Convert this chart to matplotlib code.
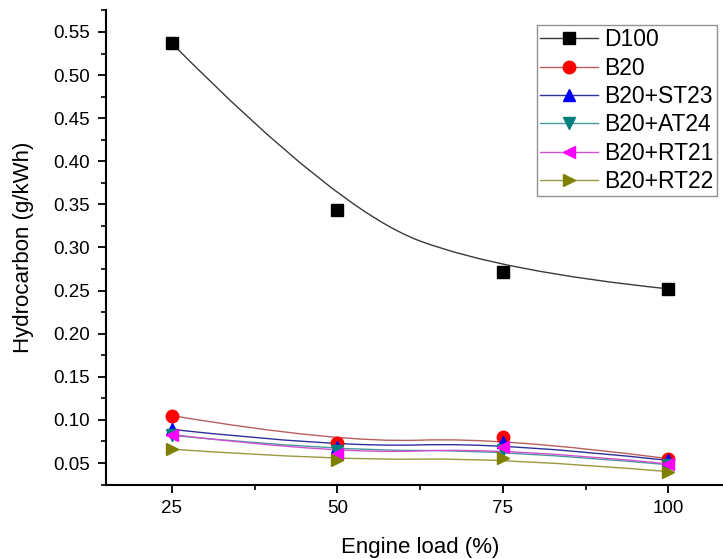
import numpy as np
import matplotlib
matplotlib.use('Agg')
import matplotlib.pyplot as plt
from matplotlib.path import Path
from matplotlib.patches import PathPatch
from matplotlib.lines import Line2D
from matplotlib.ticker import MultipleLocator, FormatStrFormatter

plt.rcParams['font.family'] = ['Liberation Sans', 'DejaVu Sans']

# engine load (%)
load = [25, 50, 75, 100]

# hydrocarbon (g/kWh)
d100 = [0.537, 0.343, 0.272, 0.252]
b20 = [0.105, 0.073, 0.080, 0.055]
b20_st23 = [0.089, 0.068, 0.074, 0.053]
b20_at24 = [0.082, 0.064, 0.065, 0.048]
b20_rt21 = [0.083, 0.060, 0.068, 0.049]
b20_rt22 = [0.066, 0.053, 0.056, 0.040]

labels = ['D100', 'B20', 'B20+ST23', 'B20+AT24', 'B20+RT21', 'B20+RT22']
series = [d100, b20, b20_st23, b20_at24, b20_rt21, b20_rt22]
markers = ['s', 'o', '^', 'v', '<', '>']
face_colors = ['#000000', '#ff0000', '#0000ff', '#007f7f', '#ff00ff', '#7f7f00']
line_colors = ['#3a3a3a', '#b86060', '#30309a', '#4a9a9a', '#d050d0', '#9a9a40']
sizes = [8, 9, 9, 9, 9, 9]


def bspline_path(x, y):
    # quadratic B-spline (Origin style): data points are the control points,
    # segments joined at midpoints of the inner control points
    pts = list(zip(x, y))
    verts = [pts[0]]
    codes = [Path.MOVETO]
    for i in range(1, len(pts) - 2):
        mid = ((pts[i][0] + pts[i + 1][0]) / 2, (pts[i][1] + pts[i + 1][1]) / 2)
        verts += [pts[i], mid]
        codes += [Path.CURVE3, Path.CURVE3]
    verts += [pts[-2], pts[-1]]
    codes += [Path.CURVE3, Path.CURVE3]
    return Path(verts, codes)


fig = plt.figure(figsize=(7.23, 5.59), dpi=100)
ax = fig.add_axes([0.146, 0.1324, 0.870, 0.8497])

handles = []
for y, lab, m, fc, lc, ms in zip(series, labels, markers, face_colors, line_colors, sizes):
    patch = PathPatch(bspline_path(load, y), facecolor='none', edgecolor=lc,
                      lw=1.0, transform=ax.transData, zorder=2)
    ax.add_patch(patch)
    ax.plot(load, y, ls='none', marker=m, ms=ms, mfc=fc, mec=fc, zorder=3)
    handles.append(Line2D([], [], color=lc, lw=1.0, marker=m, ms=ms, mfc=fc, mec=fc))

ax.set_xlim(15, 110)
ax.set_ylim(0.0245, 0.5755)
ax.set_xticks(load)
ax.xaxis.set_minor_locator(MultipleLocator(12.5))
ax.yaxis.set_minor_locator(MultipleLocator(0.025))
ax.yaxis.set_major_formatter(FormatStrFormatter('%.2f'))
ax.set_yticks(np.arange(0.05, 0.551, 0.05))

for s in ['top', 'right']:
    ax.spines[s].set_visible(False)
for s in ['left', 'bottom']:
    ax.spines[s].set_linewidth(1.5)

ax.tick_params(which='major', direction='out', length=6, width=1.3, labelsize=13.5, pad=5)
ax.tick_params(which='minor', direction='out', length=3.5, width=1.2)

ax.set_xlabel('Engine load (%)', fontsize=16, labelpad=14)
ax.set_ylabel('Hydrocarbon (g/kWh)', fontsize=16, labelpad=14)

leg = ax.legend(handles, labels, loc='upper left',
                bbox_to_anchor=(537 / 723, 1 - 25 / 559), bbox_transform=fig.transFigure,
                fontsize=16.5, frameon=True, fancybox=False, edgecolor='#777777',
                borderpad=0.15, labelspacing=0.23, handlelength=2.5, handletextpad=0.3,
                borderaxespad=0)
leg.get_frame().set_linewidth(1.0)

fig.savefig('out.png', dpi=100)
